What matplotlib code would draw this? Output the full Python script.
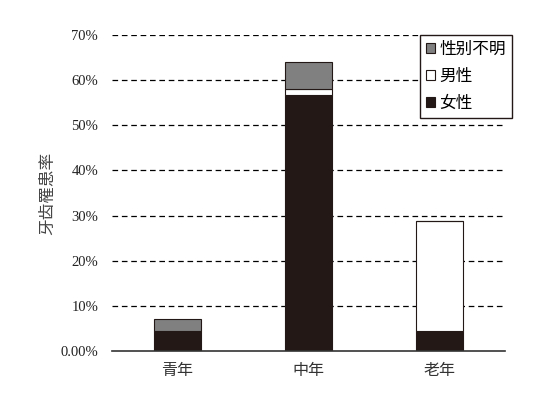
import matplotlib
matplotlib.use("Agg")
import matplotlib.pyplot as plt
import numpy as np

categories = ["青年", "中年", "老年"]
female = [4.4, 56.7, 4.4]
male = [0.0, 1.3, 24.4]
unknown = [2.6, 6.0, 0.0]
yticks = [0, 10, 20, 30, 40, 50, 60, 70]
ytick_labels = ["0.00%", "10%", "20%", "30%", "40%", "50%", "60%", "70%"]

cjk = ["Noto Sans CJK SC", "DejaVu Sans"]
serif = "Liberation Serif"

fig = plt.figure(figsize=(5.37, 3.98), dpi=100)
ax = fig.add_axes([0.2086, 0.118, 0.7318, 0.794])

x = np.arange(len(categories))
w = 0.356
female = np.array(female)
male = np.array(male)
unknown = np.array(unknown)

for y in yticks[1:]:
    ax.axhline(y, color="black", lw=0.9, ls=(0, (4.5, 3)), zorder=0)

b1 = ax.bar(x, female, w, color="#231815", edgecolor="#231815", lw=0.8, label="女性", zorder=2)
b2 = ax.bar(x, male, w, bottom=female, color="white", edgecolor="#231815", lw=0.8, label="男性", zorder=2)
b3 = ax.bar(x, unknown, w, bottom=female + male, color="#808080", edgecolor="#231815", lw=0.8, label="性别不明", zorder=2)

ax.set_xlim(-0.5, 2.5)
ax.set_ylim(0, 70)
ax.set_yticks(yticks)
ax.set_yticklabels(ytick_labels, fontfamily=serif, fontsize=10.5, color="#222222")
ax.set_xticks(x)
ax.set_xticklabels(categories, fontfamily=cjk, fontsize=11.5, color="#333333")
ax.tick_params(axis="both", length=0)
ax.tick_params(axis="y", pad=10)
ax.tick_params(axis="x", pad=8)
for s in ["left", "right", "top"]:
    ax.spines[s].set_visible(False)
ax.spines["bottom"].set_color("#333333")
ax.spines["bottom"].set_linewidth(1.2)

ax.set_ylabel("牙齿罹患率", fontfamily=cjk, fontsize=12, color="#444444", labelpad=3)

leg = fig.legend(handles=[b3, b2, b1], loc="upper right",
                 bbox_to_anchor=(512 / 537, 1 - 35 / 398),
                 prop={"family": cjk, "size": 12}, frameon=True, fancybox=False,
                 handlelength=0.55, handleheight=0.55, handletextpad=0.3,
                 borderpad=0.35, labelspacing=0.6, borderaxespad=0.0)
leg.get_frame().set_edgecolor("#231815")
leg.get_frame().set_linewidth(1.0)
leg.get_frame().set_alpha(1)

fig.savefig("out.png", dpi=100)
